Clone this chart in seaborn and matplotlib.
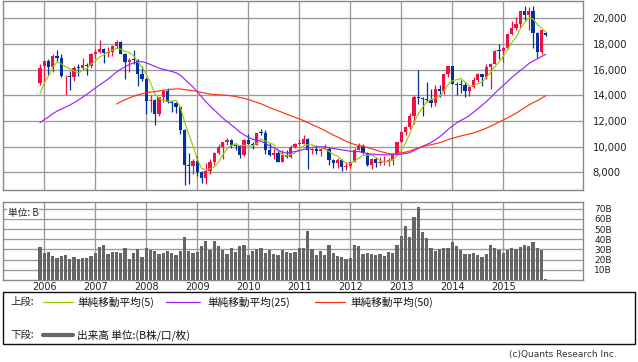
import numpy as np
import pandas as pd
import matplotlib
matplotlib.use("Agg")
import matplotlib.pyplot as plt
import seaborn as sns
from matplotlib.lines import Line2D
from matplotlib.patches import Rectangle

# ---------------- data (monthly, Dec 2005 .. Nov 2015) ----------------
start_month = "2005-12"
years = ["2006", "2007", "2008", "2009", "2010", "2011", "2012", "2013", "2014", "2015"]

opens = [14950, 16294, 16650, 16205, 17060, 16906, 15467, 15505, 15457, 16141, 16128, 16399,
         16274, 17226, 17383, 17604, 17288, 17400, 17876, 18138, 17248, 16569, 16786, 16737,
         15681, 15308, 13592, 13603, 12525, 13850, 14338, 13481, 13377, 13073, 11260, 8577,
         8512, 8860, 7994, 7568, 8110, 8828, 9523, 9958, 10357, 10492, 10133, 10034,
         9345, 10546, 10198, 10126, 11089, 11057, 9768, 9382, 9537, 8824, 9369, 9202,
         9937, 10228, 10237, 10624, 9755, 9849, 9693, 9816, 9833, 8955, 8700, 8988,
         8434, 8455, 8802, 9723, 10083, 9520, 8542, 9006, 8695, 8839, 8870, 8928,
         9446, 10395, 11138, 11559, 12397, 13860, 13774, 13677, 13668, 13388, 14455, 14327,
         15662, 16291, 14914, 14841, 14828, 14304, 14632, 15162, 15621, 15425, 16174, 16414,
         17460, 17451, 17674, 18798, 19207, 19520, 20563, 20236, 20585, 18890, 17388, 18875]
highs = [16445, 16752, 16800, 17250, 17563, 17200, 15600, 15900, 16300, 16400, 16900, 16500,
         17300, 17600, 18300, 17700, 17800, 17900, 18300, 18261, 17300, 16900, 17500, 16800,
         16300, 15350, 14000, 13700, 13900, 14400, 14601, 13600, 13500, 13200, 11400, 9500,
         9000, 9300, 8100, 8700, 9000, 9600, 10170, 10400, 10700, 10600, 10300, 10100,
         10600, 10980, 10400, 11100, 11408, 11300, 10250, 9800, 9700, 9700, 9700, 10100,
         10300, 10600, 10890, 10700, 9900, 10100, 9900, 10200, 10000, 9000, 9100, 9000,
         8800, 8900, 9900, 10255, 10200, 9600, 9100, 9200, 9200, 9300, 9100, 9500,
         10400, 11200, 11600, 12650, 14000, 15942, 13900, 15000, 14500, 14800, 14800, 15700,
         16320, 16300, 15000, 15200, 15000, 14700, 15400, 15700, 15650, 16400, 16500, 17500,
         18030, 17800, 18800, 19800, 20100, 20600, 20950, 20900, 20950, 18900, 19100, 18945]
lows = [14800, 15059, 15600, 15800, 16700, 15400, 14045, 14400, 15100, 15500, 16000, 15600,
        16100, 16900, 17300, 16530, 17000, 17100, 17700, 17200, 15262, 15800, 16400, 14700,
        15100, 12573, 12700, 11691, 12400, 13500, 13400, 12700, 12600, 11000, 6994, 7100,
        7900, 7700, 7200, 7054, 7900, 8600, 9400, 9000, 10100, 9900, 9700, 9080,
        9300, 10200, 9800, 10100, 10900, 9400, 9300, 9000, 8800, 8800, 9100, 9100,
        9900, 10100, 10200, 8227, 9400, 9400, 9300, 9800, 8600, 8300, 8300, 8100,
        8200, 8300, 8800, 9700, 9400, 8500, 8240, 8400, 8600, 8600, 8500, 8600,
        9400, 10350, 10900, 11400, 11800, 13300, 12400, 13500, 13100, 13200, 13900, 14100,
        15400, 14900, 13995, 14200, 13900, 13960, 14600, 15000, 14750, 15300, 14529, 16400,
        16800, 16600, 17600, 18700, 19100, 19300, 19900, 19100, 17700, 16900, 17200, 18600]
closes = [16111, 16650, 16205, 17060, 16906, 15467, 15505, 15457, 16141, 16128, 16399, 16274,
          17226, 17383, 17604, 17288, 17400, 17876, 18138, 17248, 16569, 16786, 16737, 15681,
          15308, 13592, 13603, 12525, 13850, 14338, 13481, 13377, 13073, 11260, 8577, 8512,
          8860, 7994, 7568, 8110, 8828, 9523, 9958, 10357, 10492, 10133, 10034, 9345,
          10546, 10198, 10126, 11089, 11057, 9768, 9382, 9537, 8824, 9369, 9202, 9937,
          10228, 10237, 10624, 9755, 9849, 9693, 9816, 9833, 8955, 8700, 8988, 8434,
          8455, 8802, 9723, 10083, 9520, 8542, 9006, 8695, 8839, 8870, 8928, 9446,
          10395, 11138, 11559, 12397, 13860, 13774, 13677, 13668, 13388, 14455, 14327, 15662,
          16291, 14914, 14841, 14828, 14304, 14632, 15162, 15621, 15425, 16174, 16414, 17460,
          17451, 17674, 18798, 19207, 19520, 20563, 20236, 20585, 18890, 17388, 19083, 18683]
# closes before the window (May 2003 .. Nov 2005), needed for the moving averages
pre_closes = [8425, 9083, 9563, 10344, 10219, 10560, 10101, 10677,
              10784, 11042, 11715, 11762, 11236, 11859, 11326, 11082, 10824, 10771, 10899, 11489,
              11388, 11741, 11669, 11009, 11277, 11584, 11900, 12414, 13574, 13607, 14872]
volume_b = [32.5, 27, 27.5, 23.5, 22, 23.5, 24.5, 21, 23, 21, 21.5, 21.5,
            23.5, 27, 32.5, 34.5, 25.5, 27.5, 27.5, 27, 31.5, 20.5, 26.5, 30.5,
            22.5, 31.5, 29.5, 29, 25.5, 26.5, 28.5, 26.5, 24.5, 28.5, 42.5, 28.5,
            26.5, 27.5, 33.5, 38.5, 29.5, 38.5, 33.5, 29.5, 25.5, 31.5, 27.5, 33.5,
            34.5, 24.5, 28.5, 30.5, 31.5, 26.5, 29.5, 25.5, 24.5, 29.5, 27.5, 26.5,
            27.5, 31.5, 31.5, 48, 30, 25, 28.5, 25, 34.4, 26.6, 23.6, 22.6,
            20.7, 21.6, 34.4, 33.4, 25.6, 26.6, 25.6, 24.6, 25.6, 23.6, 27.5, 26.6,
            34.4, 43.3, 53, 42.3, 62, 71.8, 47.2, 41.3, 31.5, 28.5, 30.5, 31.5,
            31.5, 37.4, 33.4, 29.5, 25.6, 25.6, 26.6, 24.6, 22.6, 25.6, 34.4, 31.5,
            29.5, 26.6, 29.5, 31.5, 30.5, 32.5, 34.4, 33.4, 37.4, 31.5, 29.5, 1.0]
price_ticks = [8000, 10000, 12000, 14000, 16000, 18000, 20000]
volume_ticks = [10, 20, 30, 40, 50, 60, 70]
legend_labels = ["単純移動平均(5)", "単純移動平均(25)", "単純移動平均(50)"]

# ---------------- frame ----------------
n = len(closes)
idx = np.arange(n)
all_close = pd.Series(pre_closes + closes)
df = pd.DataFrame({
    "i": idx,
    "ma5": all_close.rolling(5).mean().values[-n:],
    "ma25": all_close.rolling(25).mean().values[-n:],
    "ma50": all_close.rolling(50).mean().values[-n:],
    "vol": volume_b,
})
year_pos = [1 + 12 * k for k in range(len(years))]

W, H = 638, 362
fig = plt.figure(figsize=(W / 100, H / 100), dpi=100)
sns.set_style("white")
plt.rcParams["font.family"] = ["DejaVu Sans"]
JP = ["Noto Sans CJK JP", "DejaVu Sans"]


def px_axes(x0, y0, x1, y1):
    return fig.add_axes([x0 / W, 1 - y1 / H, (x1 - x0) / W, (y1 - y0) / H])


GRID = "#9a9a9a"
RED = "#ee1144"
BLUE = "#003399"
C5, C25, C50 = "#99cc00", "#9922ff", "#ff3311"

xlim = ((3 - 40) / 4.25, (583 - 40) / 4.25)

# ---- upper: candles ----
ax = px_axes(3, 1, 583, 190)
ax.set_xlim(*xlim)
ax.set_ylim(8000 - (190 - 172.3) * 77.92, 20000 + (18.3 - 1) * 77.92)
for x in year_pos:
    ax.axvline(x, color=GRID, lw=0.95, zorder=0)
for y in price_ticks:
    ax.axhline(y, color=GRID, lw=0.95, zorder=0)

o = np.array(opens); c = np.array(closes); h = np.array(highs); l = np.array(lows)
up = c >= o
cols = np.where(up, RED, BLUE)
ax.vlines(idx, l, h, colors=cols, lw=0.9, zorder=2)
body = np.maximum(np.abs(c - o), 60)
ax.bar(idx, body, bottom=np.minimum(o, c), width=0.72, color=cols, lw=0, zorder=3)

sns.lineplot(data=df, x="i", y="ma5", ax=ax, color=C5, lw=0.85, zorder=4)
sns.lineplot(data=df, x="i", y="ma25", ax=ax, color=C25, lw=0.85, zorder=4)
sns.lineplot(data=df.dropna(subset=["ma50"]), x="i", y="ma50", ax=ax, color=C50, lw=0.85, zorder=4)

ax.set_xlabel(""); ax.set_ylabel("")
ax.set_xticks([])
ax.yaxis.tick_right()
ax.set_yticks(price_ticks)
ax.set_yticklabels([f"{v:,}" for v in price_ticks], fontsize=7.2, color="#222222")
ax.tick_params(axis="y", length=0, pad=7)
for s in ax.spines.values():
    s.set_color("#888888"); s.set_linewidth(1.0)

# ---- lower: volume ----
bx = px_axes(3, 202, 583, 280)
bx.set_xlim(*xlim)
bx.set_ylim(0, 78 / 10.17 * 10)
for x in year_pos:
    bx.axvline(x, color=GRID, lw=0.95, zorder=0)
for y in volume_ticks:
    bx.axhline(y, color=GRID, lw=0.95, zorder=0)
bx.bar(df["i"], df["vol"], width=0.72, color="#666666", lw=0, zorder=2)
bx.set_xticks([])
bx.yaxis.tick_right()
bx.set_yticks(volume_ticks)
bx.set_yticklabels([f"{v}B" for v in volume_ticks], fontsize=6.5, color="#222222")
bx.tick_params(axis="y", length=0, pad=8)
for s in bx.spines.values():
    s.set_color("#888888"); s.set_linewidth(1.0)
bx.text(0.008, 0.86, "単位: B", transform=bx.transAxes, fontsize=7, family=JP,
        va="center", ha="left", color="#222222",
        bbox=dict(facecolor="white", edgecolor="none", pad=0.5), zorder=5)

# ---- overlay in pixel coordinates: year labels, legend box, copyright ----
lax = fig.add_axes([0, 0, 1, 1])
lax.set_xlim(0, W); lax.set_ylim(H, 0)
lax.set_axis_off()
lax.patch.set_alpha(0)
for yr, p in zip(years, year_pos):
    xpx = 3 + (p - xlim[0]) / (xlim[1] - xlim[0]) * 580
    lax.text(xpx, 287, yr, fontsize=7, ha="center", va="center", color="#222222")

lax.add_patch(Rectangle((3, 292), 632, 52, fill=False, edgecolor="#111111", lw=1.0))
lax.text(10, 302, "上段:", fontsize=7.5, family=JP, va="center", ha="left")
items = [(43, 73, 77, C5), (166, 200, 207, C25), (315, 345, 350, C50)]
for (x0, x1, xt, col), lab in zip(items, legend_labels):
    lax.add_line(Line2D([x0, x1], [302, 302], color=col, lw=0.9))
    lax.text(xt, 302, lab, fontsize=7.7, family=JP, va="center", ha="left", color="#111111")
lax.text(10, 335, "下段:", fontsize=7.5, family=JP, va="center", ha="left")
lax.add_line(Line2D([43, 73], [335, 335], color="#666666", lw=3))
lax.text(77, 335, "出来高 単位:(B株/口/枚)", fontsize=7.7, family=JP, va="center", ha="left",
         color="#111111")
lax.text(617, 355, "(c)Quants Research Inc.", fontsize=6.5, ha="right", va="center",
         color="#333333")

fig.savefig("out.png", dpi=100)
